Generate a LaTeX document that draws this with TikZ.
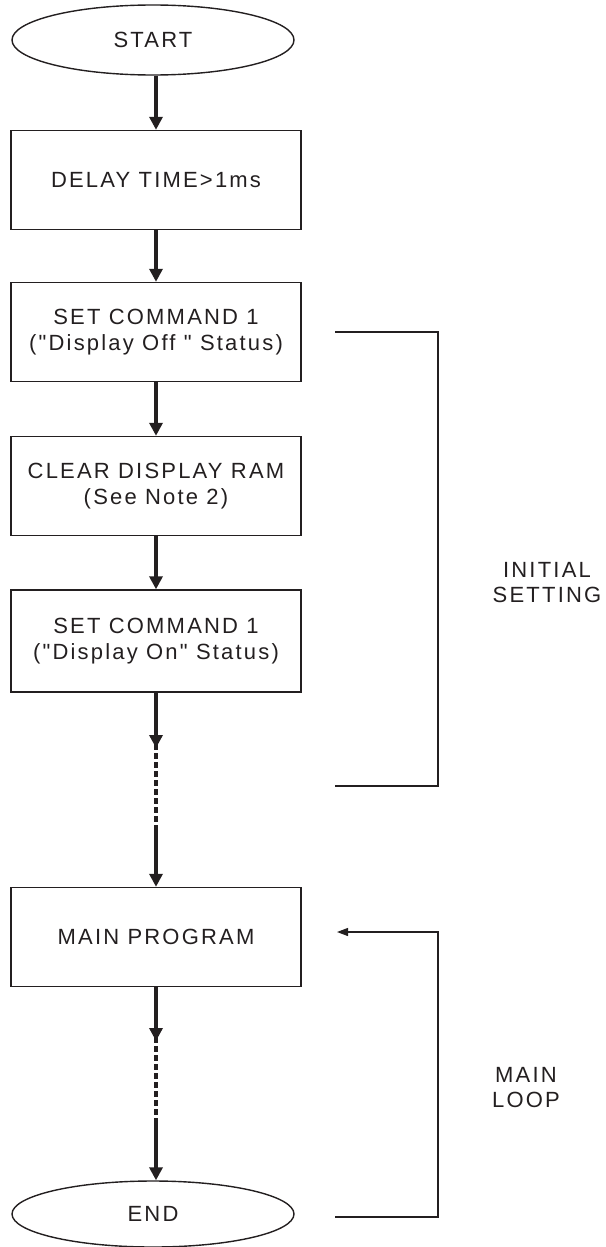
\documentclass[tikz,border=0pt]{standalone}
\usepackage{fontspec}
\setmainfont{Liberation Sans}[LetterSpace=10, Ligatures=TeXOff]
\usepackage{xcolor}
\usetikzlibrary{shapes.geometric,arrows.meta}
\definecolor{ink}{HTML}{231F20}
\tikzstyle{terminal} = [ellipse, draw=ink, line width=1.4pt, minimum width=282pt, minimum height=70pt, inner sep=0pt, text=ink, font=\fontsize{22}{26}\selectfont]
\tikzset{process/.style={rectangle, draw=ink, line width=1.4pt, minimum width=290pt, minimum height=99pt,
        align=center, text=ink, font=\fontsize{22}{26}\selectfont},
    flow/.style={draw=ink, line width=3.6pt, -{Triangle[length=13pt,width=13pt]}},
    dotflow/.style={draw=ink, line width=4.4pt, dash pattern=on 6pt off 3pt},
    sideline/.style={draw=ink, line width=1.2pt},
    sidelabel/.style={align=center, text=ink, font=\fontsize{22}{25}\selectfont}}

\begin{document}
\begin{tikzpicture}[x=1pt,y=-1pt]
    \useasboundingbox (0,0) rectangle (605,1247);
    % Definition of the steps
    \node[terminal] (start) at (153,40) {START};
    \node[process] (delay) at (156,180) {DELAY TIME>1ms};
    \node[process] (cmdoff) at (156,332) {SET COMMAND 1\\("Display Off " Status)};
    \node[process] (clear) at (156,486) {CLEAR DISPLAY RAM\\(See Note 2)};
    \node[process, minimum height=102pt] (cmdon) at (156,641) {SET COMMAND 1\\("Display On" Status)};
    \node[process] (main) at (156,937) {MAIN PROGRAM};
    \node[terminal, minimum height=66pt] (end) at (153,1214) {END};
    %
    \coordinate (onA) at (156,748);
    \coordinate (onB) at (156,827);
    \coordinate (mainA) at (156,1041);
    \coordinate (mainB) at (156,1120);
    % Flow
    \draw[flow] (start.south -| delay.north) -- (delay.north);
    \draw[flow] (delay) -- (cmdoff);
    \draw[flow] (cmdoff) -- (clear);
    \draw[flow] (clear) -- (cmdon);
    \draw[flow] (cmdon) -- (onA);
    \draw[dotflow] ([yshift=4pt]onA) -- (onB);
    \draw[flow] (onB) -- (main);
    \draw[flow] (main) -- (mainA);
    \draw[dotflow] ([yshift=4pt]mainA) -- (mainB);
    \draw[flow] (mainB) -- (end.north -| main.south);
    % Side brackets
    \coordinate (initTop) at (335,332);
    \coordinate (initBot) at (335,786);
    \coordinate (loopTop) at (337,932);
    \coordinate (loopBot) at (335,1217);
    \draw[sideline] (initTop) -- ++(103,0) |- (initBot);
    \node[sidelabel] (init) at (547,583) {INITIAL\\SETTING};
    \draw[sideline, -{Triangle[length=11pt,width=8pt]}] (loopBot) -- ++(103,0) |- (loopTop);
    \node[sidelabel] (loop) at (526,1088) {MAIN\\LOOP};
\end{tikzpicture}
\end{document}
